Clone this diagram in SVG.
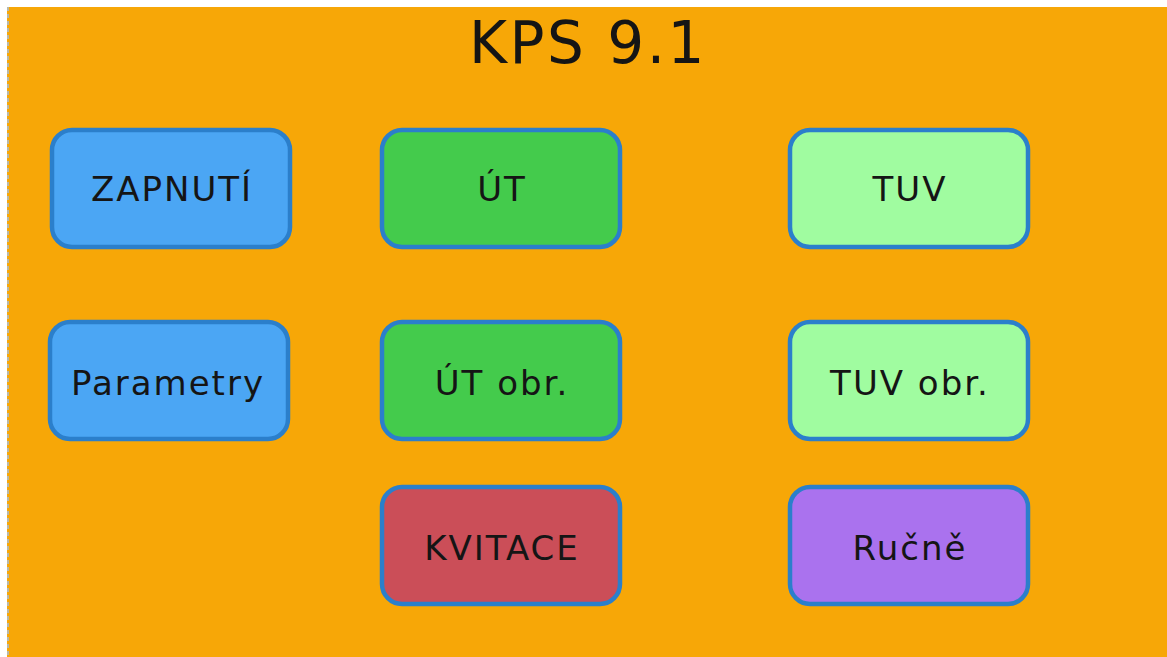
<svg xmlns="http://www.w3.org/2000/svg" width="1167" height="657" viewBox="0 0 1167 657">
<style>
.box{stroke:#2B7FCB;stroke-width:4.5}
.lbl{font-family:"DejaVu Sans",sans-serif;font-size:34px;fill:#151515;text-anchor:middle;letter-spacing:2px}
</style>
<rect x="0" y="0" width="1167" height="657" fill="#ffffff"/>
<rect x="7" y="7" width="1160" height="650" fill="#F7A707"/>
<line x1="8" y1="7" x2="8" y2="657" stroke="#B8B8A8" stroke-width="2" stroke-dasharray="4 3"/>
<text x="588" y="63" font-family="DejaVu Sans, sans-serif" font-size="58" fill="#151515" text-anchor="middle" letter-spacing="2.5">KPS 9.1</text>
<g id="zapnuti"><rect class="box" x="52" y="130" width="238" height="117" rx="20" fill="#4BA6F4"/><text class="lbl" x="172" y="201">ZAPNUTÍ</text></g>
<g id="parametry"><rect class="box" x="50" y="322" width="238" height="117" rx="20" fill="#4BA6F4"/><text class="lbl" x="168" y="395">Parametry</text></g>
<g id="ut"><rect class="box" x="382" y="130" width="238" height="117" rx="20" fill="#44CB4C"/><text class="lbl" x="502" y="201">ÚT</text></g>
<g id="ut-obr"><rect class="box" x="382" y="322" width="238" height="117" rx="20" fill="#44CB4C"/><text class="lbl" x="502" y="395">ÚT obr.</text></g>
<g id="kvitace"><rect class="box" x="382" y="487" width="238" height="117" rx="20" fill="#CB4E58"/><text class="lbl" x="502" y="560">KVITACE</text></g>
<g id="tuv"><rect class="box" x="790" y="130" width="238" height="117" rx="20" fill="#A0FCA0"/><text class="lbl" x="910" y="201">TUV</text></g>
<g id="tuv-obr"><rect class="box" x="790" y="322" width="238" height="117" rx="20" fill="#A0FCA0"/><text class="lbl" x="910" y="395">TUV obr.</text></g>
<g id="rucne"><rect class="box" x="790" y="487" width="238" height="117" rx="20" fill="#AA72EE"/><text class="lbl" x="910" y="560">Ručně</text></g>
<g id="connectors"/>
</svg>
